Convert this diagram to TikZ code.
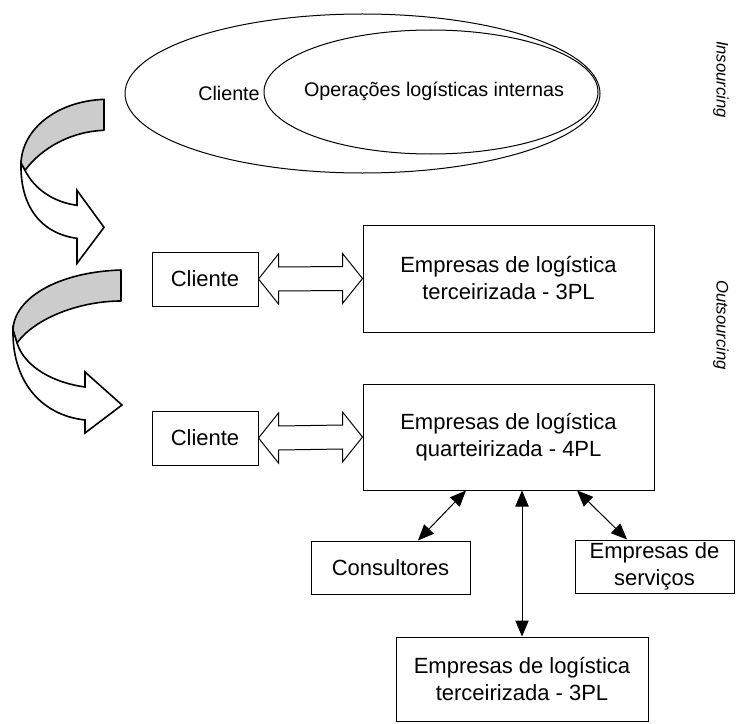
\documentclass[tikz,border=0pt]{standalone}
\usepackage{fontspec}
\setmainfont{Liberation Sans}
\usetikzlibrary{arrows.meta,calc,shapes.geometric}
\newcommand{\boxfont}{\fontsize{16.5}{20.25}\selectfont}
\newcommand{\ovalfont}{\fontsize{14.8}{17.5}\selectfont}
\newcommand{\sidefont}{\fontsize{12.5}{15}\selectfont\itshape}
\begin{document}
\begin{tikzpicture}[x=0.75pt,y=-0.75pt,
  thinline/.style={line width=0.75pt},
  box/.style={draw,thinline,fill=white,align=center,inner sep=0pt,font=\boxfont},
  oval/.style={draw,thinline,ellipse,inner sep=0pt},
  label/.style={font=\ovalfont,inner sep=0pt},
  side/.style={font=\sidefont,rotate=-90,inner sep=0pt},
  blockarrow/.style={draw,thinline,fill=white,line join=miter},
  ribbonback/.style={draw,line width=1.2pt,fill=black!20,line join=round},
  ribbonfront/.style={draw,line width=1.2pt,fill=white,line join=miter},
  link/.style={thinline,{Triangle[length=12pt,width=10pt]}-{Triangle[length=12pt,width=10pt]}}
]
\useasboundingbox (0,0) rectangle (742,724);

% insourcing: client containing its own logistics
\node[oval,minimum width=475*0.75pt,minimum height=159*0.75pt] (clientoval) at (362.5,93.5) {};
\node[oval,minimum width=334*0.75pt,minimum height=124*0.75pt] (internaloval) at (431,92) {};
\node[label] (clientname) at (229,93) {Cliente};
\node[label] (internalname) at (434,91) {Operações logísticas internas};

% side captions
\node[side] (insourcing) at (721,79.5) {Insourcing};
\node[side] (outsourcing) at (721,325) {Outsourcing};

% twisted ribbon arrow from the first to the second stage
\begin{scope}[yshift=-4pt]
\path[ribbonback] (104,94) .. controls (55,96) and (22,125) .. (21,158)
  -- (25,165) .. controls (42,142) and (72,126) .. (104,125) -- cycle;
\path[ribbonfront] (21,158) .. controls (20,200) and (40,228) .. (77,233)
  -- (77,258) -- (104,222) -- (77,185) -- (77,200)
  .. controls (55,197) and (35,185) .. (25,165) -- cycle;
\end{scope}

% twisted ribbon arrow from the second to the third stage
\path[ribbonback] (121,270) .. controls (58,272) and (14,298) .. (13,330)
  -- (17,343) .. controls (35,318) and (80,301) .. (121,301) -- cycle;
\path[ribbonfront] (13,330) .. controls (12,380) and (40,415) .. (85,420)
  -- (85,433) -- (122,405) -- (85,372) -- (85,387)
  .. controls (55,383) and (25,368) .. (17,343) -- cycle;

% 3PL stage
\node[box,minimum width=106*0.75pt,minimum height=54*0.75pt] (client1) at (205,279) {Cliente};
\node[box,minimum width=291*0.75pt,minimum height=107*0.75pt] (tpl) at (508.5,278.5)
  {Empresas de logística\\terceirizada - 3PL};
\draw[blockarrow] (client1.east) -- ++(20,-25) -- ++(0,13)
  -- ($(tpl.west)+(-20,-12)$) -- ++(0,-13) -- (tpl.west) -- ++(-20,25) -- ++(0,-13)
  -- ($(client1.east)+(20,12)$) -- ++(0,13) -- cycle;

% 4PL stage
\node[box,minimum width=106*0.75pt,minimum height=54*0.75pt] (client2) at (205,438) {Cliente};
\node[box,minimum width=291*0.75pt,minimum height=106*0.75pt] (fpl) at (508.5,437)
  {Empresas de logística\\quarteirizada - 4PL};
\draw[blockarrow] (client2.east) -- ++(20,-25) -- ++(0,13)
  -- ($(fpl.west)+(-20,-12)$) -- ++(0,-13) -- (fpl.west) -- ++(-20,25) -- ++(0,-13)
  -- ($(client2.east)+(20,12)$) -- ++(0,13) -- cycle;

% partners of the 4PL
\node[box,minimum width=159*0.75pt,minimum height=53*0.75pt] (consult) at (390.5,567.5) {Consultores};
\node[box,minimum width=159*0.75pt,minimum height=53*0.75pt] (services) at (654.5,566.5)
  {Empresas de\\serviços};
\node[box,minimum width=252*0.75pt,minimum height=84*0.75pt] (bottompl) at (522,679)
  {Empresas de logística\\terceirizada - 3PL};

\draw[link] ([xshift=-31.9pt]fpl.south) -- ([xshift=20.6pt]consult.north);
\draw[link] ([xshift=51.4pt]fpl.south) -- ([xshift=-20.6pt]services.north);
\draw[link] (bottompl.north |- fpl.south) -- (bottompl.north);
\end{tikzpicture}
\end{document}
